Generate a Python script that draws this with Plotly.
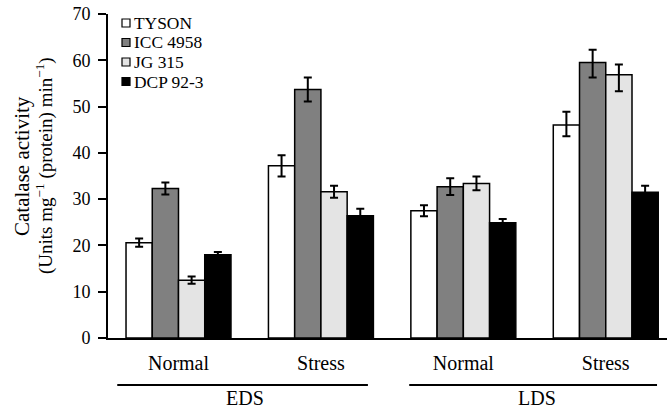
import plotly.graph_objects as go

conditions = ["Normal", "Stress", "Normal", "Stress"]
stages = ["EDS", "LDS"]
genotypes = ["TYSON", "ICC 4958", "JG 315", "DCP 92-3"]

tyson = [20.6, 37.2, 27.5, 46.0]
icc4958 = [32.3, 53.7, 32.7, 59.5]
jg315 = [12.5, 31.6, 33.4, 56.9]
dcp923 = [18.0, 26.4, 24.9, 31.5]

tyson_err_up = [0.9, 2.3, 1.2, 2.9]
tyson_err_dn = [0.9, 2.3, 1.2, 2.4]
icc_err_up = [1.3, 2.6, 1.8, 2.8]
icc_err_dn = [1.3, 2.6, 1.8, 3.2]
jg_err_up = [0.8, 1.3, 1.5, 2.2]
jg_err_dn = [0.8, 1.3, 1.5, 3.6]
dcp_err_up = [0.6, 1.5, 0.8, 1.4]
dcp_err_dn = [0.6, 1.5, 0.8, 1.4]

colors = ["#ffffff", "#808080", "#e4e4e4", "#000000"]

FONT = "Liberation Serif, Times New Roman, serif"

W, H = 667, 411
ML, MR, MT, MB = 108, 0, 14, 73
PW, PH = W - ML - MR, H - MT - MB


def px_x(px):
    return (px - ML) / PW


def px_y(py):
    return (H - MB - py) / PH


x = list(range(len(conditions)))
series = [tyson, icc4958, jg315, dcp923]
ups = [tyson_err_up, icc_err_up, jg_err_up, dcp_err_up]
dns = [tyson_err_dn, icc_err_dn, jg_err_dn, dcp_err_dn]

fig = go.Figure()
for name, vals, up, dn, col in zip(genotypes, series, ups, dns, colors):
    fig.add_trace(go.Bar(
        x=x, y=vals, name=name, showlegend=False,
        marker=dict(color=col, line=dict(color="black", width=1.5)),
        error_y=dict(type="data", array=up, arrayminus=dn, symmetric=False,
                     color="black", thickness=2, width=4),
    ))

fig.update_layout(
    width=W, height=H,
    margin=dict(l=ML, r=MR, t=MT, b=MB, autoexpand=False),
    barmode="group", bargap=0.263, bargroupgap=0,
    plot_bgcolor="white", paper_bgcolor="white",
    font=dict(family=FONT, color="black", size=18),
    showlegend=False,
    xaxis=dict(range=[-0.495, 3.43], tickvals=x, ticktext=conditions,
               showline=True, linecolor="black", linewidth=2, ticks="",
               showgrid=False, zeroline=False, ticklabelstandoff=6,
               tickfont=dict(family=FONT, size=20, color="black")),
    yaxis=dict(range=[0, 70], dtick=10, ticks="outside", ticklen=8, tickwidth=2,
               tickcolor="black", showline=True, linecolor="black", linewidth=2,
               showgrid=False, zeroline=False, ticklabelstandoff=4,
               tickfont=dict(family=FONT, size=18, color="black")),
)

# legend (drawn manually for compact spacing)
leg_rows = [23.0, 42.5, 62.0, 81.5]
for name, col, ry in zip(genotypes, colors, leg_rows):
    fig.add_shape(type="rect", xref="paper", yref="paper",
                  x0=px_x(122), x1=px_x(130), y0=px_y(ry + 4), y1=px_y(ry - 4),
                  fillcolor=col, line=dict(color="black", width=1.2))
    fig.add_annotation(text=name, xref="paper", yref="paper", x=px_x(133), y=px_y(ry),
                       xanchor="left", yanchor="middle", showarrow=False, borderpad=0,
                       font=dict(family=FONT, size=17.4, color="black"))

# y-axis title (two lines)
fig.add_annotation(
    text="Catalase activity",
    xref="paper", yref="paper", x=px_x(22), y=px_y(166), xanchor="center", yanchor="middle",
    textangle=-90, showarrow=False, font=dict(family=FONT, size=21, color="black"),
)
fig.add_annotation(
    text="(Units mg<sup>−1</sup> (protein) min<sup>−1</sup>)",
    xref="paper", yref="paper", x=px_x(44), y=px_y(166), xanchor="center", yanchor="middle",
    textangle=-90, showarrow=False, font=dict(family=FONT, size=19, color="black"),
)

# stage grouping lines and labels
stage_spans = [(-0.43, 1.33), (1.62, 3.36)]
stage_centers = [0.47, 2.52]
for label, (x0, x1), xc in zip(stages, stage_spans, stage_centers):
    fig.add_shape(type="line", xref="x", yref="paper", x0=x0, x1=x1,
                  y0=px_y(385), y1=px_y(385), line=dict(color="black", width=2))
    fig.add_annotation(text=label, xref="x", yref="paper", x=xc, y=px_y(398),
                       xanchor="center", yanchor="middle", showarrow=False,
                       font=dict(family=FONT, size=20, color="black"))

fig.write_html("out.html", config={"displayModeBar": False},
               post_script="document.body.style.margin='0';document.body.style.overflow='hidden';")
